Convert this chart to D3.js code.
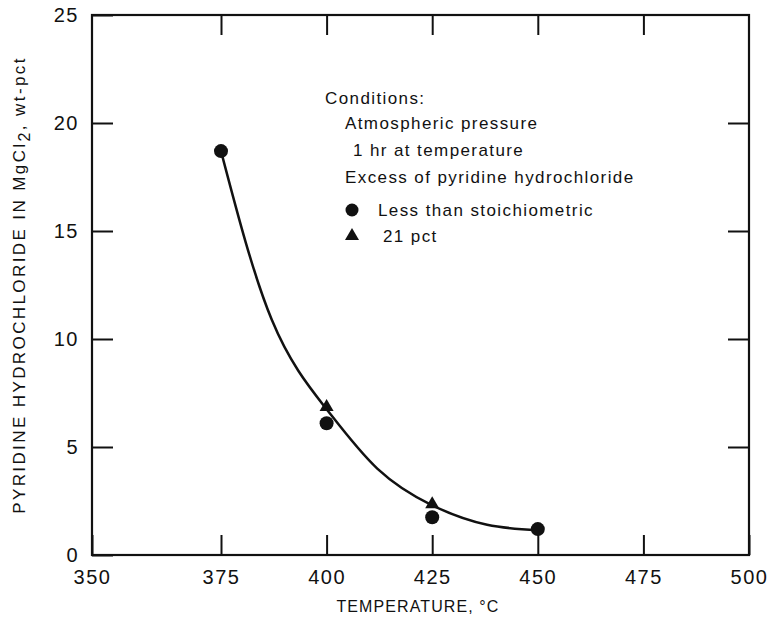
<!DOCTYPE html>
<html>
<head>
<meta charset="utf-8">
<script src="https://cdn.jsdelivr.net/npm/d3@7"></script>
<style>
    body { margin: 0; background: #fff; }
    svg { font-family: 'Liberation Sans', Arial, sans-serif; }
    .tick text { font-size: 20px; fill: #111; letter-spacing: 1.5px; }
    .legend text { font-size: 17px; fill: #111; letter-spacing: 1.4px; }
</style>
</head>
<body>
<div id="chart"></div>
<script>
// values
const xTicks = [350, 375, 400, 425, 450, 475, 500]
const yTicks = [0, 5, 10, 15, 20, 25]

const circleTemps = [375, 400, 425, 450]
const circleValues = [18.7, 6.1, 1.75, 1.2]

const triangleTemps = [400, 425]
const triangleValues = [6.85, 2.35]

// hand-drawn smooth curve through the data
const curveTemps = [375, 387, 400, 412, 425, 438, 450]
const curveValues = [18.7, 10.9, 6.75, 4.0, 2.3, 1.4, 1.15]

const legendLines = [
    'Conditions:',
    'Atmospheric pressure',
    '1 hr at temperature',
    'Excess of pyridine hydrochloride'
]
const legendSeries = ['Less than stoichiometric', '21 pct']

const w = 770
const h = 625
const frame = {left: 92, right: 749, top: 15, bottom: 555}

const svg = d3.select('#chart')
    .append('svg')
    .attr('width', w)
    .attr('height', h)

// the printed scale has a slightly wider first interval
const x = d3.scaleLinear()
    .domain([350, 375, 500])
    .range([frame.left, 221, frame.right])

const y = d3.scaleLinear()
    .domain([0, 25])
    .range([frame.bottom, frame.top])

// inward ticks on all four sides
svg.append('g')
    .attr('transform', `translate(0, ${frame.bottom})`)
    .call(d3.axisBottom(x).tickValues(xTicks).tickSizeInner(-20).tickSizeOuter(0).tickPadding(15))

svg.append('g')
    .attr('transform', `translate(0, ${frame.top})`)
    .call(d3.axisTop(x).tickValues(xTicks.slice(1, -1)).tickSizeInner(-20).tickSizeOuter(0).tickFormat(''))

svg.append('g')
    .attr('transform', `translate(${frame.left}, 0)`)
    .call(d3.axisLeft(y).tickValues(yTicks).tickSizeInner(-21).tickSizeOuter(0).tickPadding(13))

svg.append('g')
    .attr('transform', `translate(${frame.right}, 0)`)
    .call(d3.axisRight(y).tickValues(yTicks.slice(1, -1)).tickSizeInner(-21).tickSizeOuter(0).tickFormat(''))

svg.selectAll('.domain').remove()
svg.selectAll('.tick line').attr('stroke', '#111').attr('stroke-width', 2)

svg.append('rect')
    .attr('x', frame.left)
    .attr('y', frame.top)
    .attr('width', frame.right - frame.left)
    .attr('height', frame.bottom - frame.top)
    .attr('fill', 'none')
    .attr('stroke', '#111')
    .attr('stroke-width', 2.2)

// curve
const line = d3.line()
    .x(d => x(d[0]))
    .y(d => y(d[1]))
    .curve(d3.curveNatural)

svg.append('path')
    .datum(d3.zip(curveTemps, curveValues))
    .attr('d', line)
    .attr('fill', 'none')
    .attr('stroke', '#111')
    .attr('stroke-width', 2.5)

// markers
svg.selectAll('.circ')
    .data(d3.zip(circleTemps, circleValues))
    .enter()
    .append('circle')
    .attr('class', 'circ')
    .attr('cx', d => x(d[0]))
    .attr('cy', d => y(d[1]))
    .attr('r', 7)
    .attr('fill', '#111')

const tri = d3.symbol().type(d3.symbolTriangle).size(85)

svg.selectAll('.tri')
    .data(d3.zip(triangleTemps, triangleValues))
    .enter()
    .append('path')
    .attr('class', 'tri')
    .attr('transform', d => `translate(${x(d[0])}, ${y(d[1])})`)
    .attr('d', tri)
    .attr('fill', '#111')

// legend block
const legend = svg.append('g').attr('class', 'legend')
const lineX = [325, 345, 353, 345]
const lineY = [104, 129, 156, 183]

legend.selectAll('.cond')
    .data(legendLines)
    .enter()
    .append('text')
    .attr('class', 'cond')
    .attr('x', (d, i) => lineX[i])
    .attr('y', (d, i) => lineY[i])
    .text(d => d)

legend.append('circle')
    .attr('cx', 352).attr('cy', 210).attr('r', 6.5).attr('fill', '#111')
legend.append('path')
    .attr('transform', 'translate(352, 236)')
    .attr('d', tri)
    .attr('fill', '#111')

legend.selectAll('.ser')
    .data(legendSeries)
    .enter()
    .append('text')
    .attr('class', 'ser')
    .attr('x', (d, i) => i === 0 ? 378 : 383)
    .attr('y', (d, i) => i === 0 ? 216 : 242)
    .text(d => d)

// axis titles
svg.append('text')
    .attr('x', 418)
    .attr('y', 612)
    .attr('text-anchor', 'middle')
    .style('font-size', '16px')
    .style('letter-spacing', '1.1px')
    .attr('fill', '#111')
    .text('TEMPERATURE,  °C')

const yTitle = svg.append('text')
    .attr('transform', 'translate(25, 285) rotate(-90)')
    .attr('text-anchor', 'middle')
    .style('font-size', '17px')
    .style('letter-spacing', '2.4px')
    .attr('fill', '#111')

yTitle.append('tspan').text('PYRIDINE HYDROCHLORIDE IN MgCl')
yTitle.append('tspan').attr('dy', 5).style('font-size', '16px').text('2')
yTitle.append('tspan').attr('dy', -5).text(',  wt-pct')
</script>
</body>
</html>
